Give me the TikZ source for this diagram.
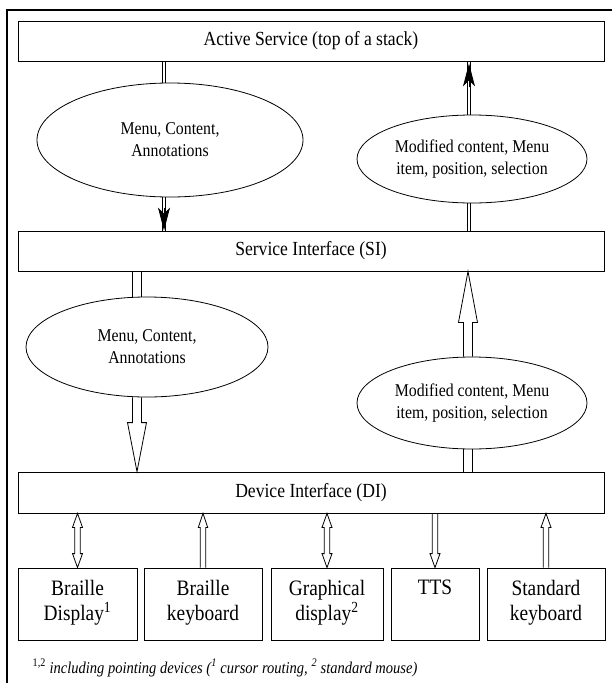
\documentclass[tikz,border=0pt]{standalone}
\usepackage{fontspec}
\setmainfont{Liberation Serif}[FakeStretch=0.88]
\usetikzlibrary{shapes.geometric,calc,arrows.meta}

% two parallel lines between a point and the level of another
\newcommand{\rails}[3]{%
  \draw ([xshift=-#3]#1) -- ([xshift=-#3]#1 |- #2);
  \draw ([xshift=#3]#1) -- ([xshift=#3]#1 |- #2);}
% hollow arrow: foot, tip, half shaft, half head, head length
\newcommand{\hollow}[5]{%
  \draw let \p1=(#1), \p2=(#2), \n1={sign((\y2)-(\y1))} in
    ({\x1-#3},\y1) -- ({\x1-#3},{\y2-\n1*#5}) -- ({\x1-#4},{\y2-\n1*#5}) -- (\x1,\y2)
    -- ({\x1+#4},{\y2-\n1*#5}) -- ({\x1+#3},{\y2-\n1*#5}) -- ({\x1+#3},\y1);}
% hollow arrow with a head at both ends
\newcommand{\hollowtwo}[5]{%
  \draw let \p1=(#1), \p2=(#2), \n1={sign((\y2)-(\y1))} in
    (\x1,\y1) -- ({\x1-#4},{\y1+\n1*#5}) -- ({\x1-#3},{\y1+\n1*#5})
    -- ({\x1-#3},{\y2-\n1*#5}) -- ({\x1-#4},{\y2-\n1*#5}) -- (\x1,\y2)
    -- ({\x1+#4},{\y2-\n1*#5}) -- ({\x1+#3},{\y2-\n1*#5})
    -- ({\x1+#3},{\y1+\n1*#5}) -- ({\x1+#4},{\y1+\n1*#5}) -- cycle;}

\begin{document}
\begin{tikzpicture}[x=1pt,y=-1pt,line width=0.8pt,
  layer/.style={draw,minimum width=586pt,minimum height=40pt,inner sep=0pt,font=\fontsize{20}{24}\selectfont},
  bubble/.style={ellipse,draw,inner sep=0pt,align=center,font=\fontsize{18}{22}\selectfont},
  device/.style={draw,minimum height=72pt,inner sep=0pt,align=center,text depth=8pt,font=\fontsize{22}{25}\selectfont},
  blackhead/.style={-{Stealth[length=23pt,width=12pt,inset=6pt]}}]
\useasboundingbox (0,0) rectangle (612,683);
\draw[line width=1.8pt] (7,683) -- (7,10) -- (612,10);

% layers
\node[layer] (as) at (311,41) {Active Service (top of a stack)};
\node[layer] (si) at (311,251) {Service Interface (SI)};
\node[layer,minimum height=41pt] (di) at (311,492.5) {Device Interface (DI)};

% what goes down and up
\node[bubble,minimum width=266pt,minimum height=114pt] (down1) at (170,140) {Menu, Content,\\Annotations};
\node[bubble,minimum width=230pt,minimum height=88pt] (up1) at (472,159) {Modified content, Menu\\item, position, selection};
\node[bubble,minimum width=242pt,minimum height=100pt] (down2) at (147,347) {Menu, Content,\\Annotations};
\node[bubble,minimum width=230pt,minimum height=92pt] (up2) at (472,403) {Modified content, Menu\\item, position, selection};

% devices
\node[device,minimum width=119pt] (bd) at (77.5,604) {Braille\\Display\textsuperscript{1}};
\node[device,minimum width=118pt] (bk) at (203,604) {Braille\\keyboard};
\node[device,minimum width=112pt] (gd) at (327,604) {Graphical\\display\textsuperscript{2}};
\node[device,minimum width=88pt] (tts) at (435,604) {TTS\\\phantom{y}};
\node[device,minimum width=118pt] (sk) at (546,604) {Standard\\keyboard};

\node[anchor=west,font=\fontsize{16.5}{19}\selectfont] (note) at (29,668)
  {\textsuperscript{1,2} \textit{including pointing devices (\textsuperscript{1} cursor routing, \textsuperscript{2} standard mouse)}};

% service <-> service interface
\coordinate (a1) at ([xshift=-6pt]down1.north);
\coordinate (a1s) at ([xshift=-6pt]down1.south);
\rails{a1}{as.south}{1.6pt}
\rails{a1s}{si.north}{1.6pt}
\draw[blackhead] ($(a1s |- si.north)+(0,-23)$) -- (a1s |- si.north);
\coordinate (b1) at ([xshift=-3pt]up1.south);
\coordinate (b1n) at ([xshift=-3pt]up1.north);
\rails{b1}{si.north}{1.6pt}
\rails{b1n}{as.south}{1.6pt}
\draw[blackhead] ($(b1n |- as.south)+(0,26)$) -- ($(b1n |- as.south)+(0,2)$);

% service interface <-> device interface
\coordinate (c1) at ([xshift=-10pt]down2.north);
\coordinate (c1s) at ([xshift=-10pt]down2.south);
\rails{c1}{si.south}{4.5pt}
\hollow{c1s}{c1s |- di.north}{4.5pt}{9.5pt}{49pt}
\coordinate (d1) at ([xshift=-4pt]up2.south);
\coordinate (d1n) at ([xshift=-4pt]up2.north);
\rails{d1}{di.north}{4.5pt}
\hollow{d1n}{d1n |- si.south}{4.5pt}{9.5pt}{51pt}

% device interface <-> devices
\hollowtwo{bd.north}{bd.north |- di.south}{2.8pt}{5pt}{14pt}
\hollow{bk.north}{bk.north |- di.south}{2.7pt}{4.7pt}{14pt}
\hollowtwo{gd.north}{gd.north |- di.south}{2.8pt}{5pt}{14pt}
\hollow{tts.north |- di.south}{tts.north}{2.7pt}{5pt}{14pt}
\hollow{sk.north}{sk.north |- di.south}{2.8pt}{5pt}{14pt}
\end{tikzpicture}
\end{document}
